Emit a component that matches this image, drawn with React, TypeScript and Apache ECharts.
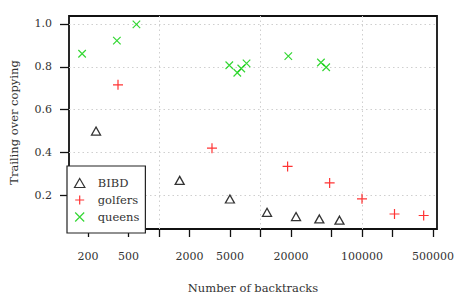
import React, { useEffect, useRef } from "react";
import * as echarts from "echarts";

// Data: [number of backtracks, trailing over copying]
const bibd: [number, number][] = [
  [240, 0.5], [1600, 0.27], [5000, 0.183], [11600, 0.121], [22400, 0.101], [38000, 0.09], [60000, 0.084],
];
const golfers: [number, number][] = [
  [395, 0.716], [3330, 0.42], [18500, 0.335], [48000, 0.258], [100000, 0.184], [209000, 0.113], [405000, 0.106],
];
const queens: [number, number][] = [
  [175, 0.861], [385, 0.922], [600, 0.998], [4930, 0.807], [5910, 0.772], [6470, 0.792], [7290, 0.816],
  [18800, 0.85], [39400, 0.82], [44400, 0.798],
];
const xTicks = [200, 500, 1000, 2000, 5000, 10000, 20000, 50000, 100000, 200000, 500000];
const xLabels = [200, 500, 2000, 5000, 20000, 100000, 500000];
const xGrid = [1000, 10000, 100000];
const yTicks = [0.2, 0.4, 0.6, 0.8, 1.0];
const xRange = [130, 548000];
const yRange = [0.043, 1.037];

const FONT = "DejaVu Serif";
const TXT = "#333";
const TRI = "path://M5,0L10,8.66L0,8.66Z";
const PLUS = "path://M5,0L5,10M0,5L10,5";
const CROSS = "path://M0,0L10,10M10,0L0,10";

const lg = (v: number) => Math.log10(v);
const toLog = (arr: [number, number][]) => arr.map(([x, y]) => [lg(x), y]);

export default function App() {
  const ref = useRef<HTMLDivElement>(null);
  useEffect(() => {
    if (!ref.current) return;
    const chart = echarts.init(ref.current, undefined, { renderer: "svg" });
    const gridLine = { show: true, lineStyle: { color: "#cfcfcf", type: [1.5, 3] as any, width: 1 } };
    chart.setOption({
      animation: false,
      backgroundColor: "#fff",
      grid: { left: 67, right: 33, top: 16, bottom: 67, show: true, borderColor: "#111", borderWidth: 1.8, backgroundColor: "transparent" },
      legend: {
        left: 67,
        top: 166,
        orient: "vertical",
        padding: [10, 6, 9, 5],
        itemWidth: 26,
        itemHeight: 9,
        itemGap: 3,
        backgroundColor: "#fff",
        borderColor: "#222",
        borderWidth: 1.2,
        selectedMode: false,
        symbolKeepAspect: true,
        itemStyle: { borderWidth: 1.2 },
        textStyle: { fontFamily: FONT, fontSize: 11.5, color: TXT, lineHeight: 14 },
        data: [
          { name: "BIBD", icon: TRI },
          { name: "golfers", icon: PLUS },
          { name: "queens", icon: CROSS },
        ],
        z: 10,
      },
      xAxis: [
        {
          type: "value",
          min: lg(xRange[0]),
          max: lg(xRange[1]),
          name: "Number of backtracks",
          nameLocation: "middle",
          nameGap: 52,
          nameMoveOverlap: false,
          nameTextStyle: { fontFamily: FONT, fontSize: 11.5, color: TXT, verticalAlign: "top", lineHeight: 14 },
          axisLine: { show: false },
          axisTick: { show: true, length: 8, inside: false, customValues: xTicks.map(lg), lineStyle: { color: "#111", width: 1.3 } },
          axisLabel: {
            customValues: xLabels.map(lg),
            formatter: (v: number) => String(Math.round(Math.pow(10, v))),
            fontFamily: FONT, fontSize: 11, color: TXT, margin: 22,
          },
          splitLine: { show: false },
        },
        {
          type: "value",
          min: lg(xRange[0]),
          max: lg(xRange[1]),
          position: "bottom",
          axisLine: { show: false },
          axisTick: { show: false, customValues: xGrid.map(lg) },
          axisLabel: { show: false },
          splitLine: gridLine,
        },
      ],
      yAxis: {
        type: "value",
        min: yRange[0],
        max: yRange[1],
        name: "Trailing over copying",
        nameLocation: "middle",
        nameGap: 49,
        nameMoveOverlap: false,
        nameTextStyle: { fontFamily: FONT, fontSize: 11.5, color: TXT },
        axisLine: { show: false },
        axisTick: { show: true, length: 9, customValues: yTicks, lineStyle: { color: "#111", width: 1.3 } },
        axisLabel: {
          customValues: yTicks,
          formatter: (v: number) => v.toFixed(1),
          fontFamily: FONT, fontSize: 11, color: TXT, margin: 17,
        },
        splitLine: gridLine,
      },
      series: [
        {
          name: "BIBD", type: "scatter", xAxisIndex: 0, symbol: TRI, symbolSize: [9, 8],
          itemStyle: { color: "none", borderColor: "#000", borderWidth: 1.3 },
          data: toLog(bibd), z: 3,
        },
        {
          name: "golfers", type: "scatter", xAxisIndex: 0, symbol: PLUS, symbolSize: 10,
          itemStyle: { color: "none", borderColor: "#ff0000", borderWidth: 1.2 },
          data: toLog(golfers), z: 3,
        },
        {
          name: "queens", type: "scatter", xAxisIndex: 0, symbol: CROSS, symbolSize: 7.5,
          itemStyle: { color: "none", borderColor: "#00cd00", borderWidth: 1.2 },
          data: toLog(queens), z: 3,
        },
      ],
    });
    return () => chart.dispose();
  }, []);
  return <div ref={ref} style={{ width: 470, height: 300, margin: -8 }} />;
}
